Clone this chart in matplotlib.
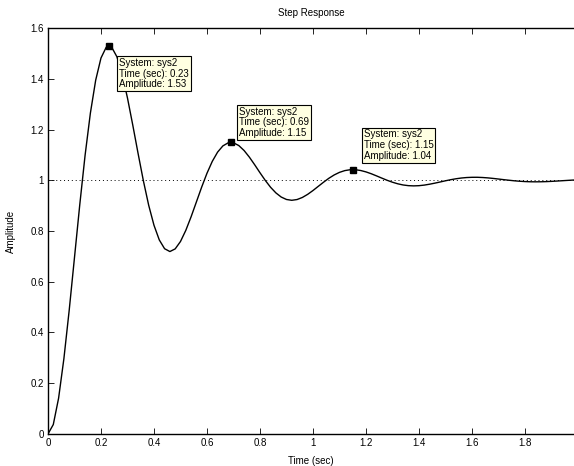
import matplotlib
matplotlib.use('Agg')
import matplotlib.pyplot as plt

plt.rcParams['font.family'] = ['Liberation Sans', 'DejaVu Sans']

# step response of sys2, every 0.02 s
t = [round(0.02 * i, 2) for i in range(101)]
amp = [0.0000, 0.0372, 0.1409, 0.2966, 0.4872, 0.6955, 0.9043, 1.0983, 1.2647, 1.3944,
       1.4818, 1.5248, 1.5250, 1.4867, 1.4170, 1.3240, 1.2171, 1.1055, 0.9978, 0.9015,
       0.8226, 0.7648, 0.7302, 0.7190, 0.7295, 0.7586, 0.8023, 0.8559, 0.9144, 0.9731,
       1.0276, 1.0744, 1.1108, 1.1354, 1.1475, 1.1475, 1.1368, 1.1172, 1.0910, 1.0610,
       1.0296, 0.9994, 0.9723, 0.9502, 0.9339, 0.9242, 0.9210, 0.9240, 0.9322, 0.9445,
       0.9595, 0.9760, 0.9924, 1.0078, 1.0209, 1.0311, 1.0380, 1.0414, 1.0415, 1.0384,
       1.0329, 1.0256, 1.0171, 1.0083, 0.9998, 0.9922, 0.9860, 0.9814, 0.9787, 0.9778,
       0.9786, 0.9809, 0.9844, 0.9886, 0.9932, 0.9979, 1.0022, 1.0059, 1.0088, 1.0107,
       1.0116, 1.0117, 1.0108, 1.0093, 1.0072, 1.0048, 1.0023, 1.0000, 0.9978, 0.9961,
       0.9948, 0.9940, 0.9938, 0.9940, 0.9946, 0.9956, 0.9968, 0.9981, 0.9994, 1.0006,
       1.0017]

# data tips
tip_t = [0.23, 0.69, 1.15]
tip_a = [1.53, 1.15, 1.04]
tip_off = [(10, -12), (8, 4), (11, 9)]
tip_va = ['top', 'bottom', 'bottom']

final_value = 1.0

fig = plt.figure(figsize=(5.74, 4.66), dpi=100)
ax = fig.add_axes([0.0836, 0.0687, 0.9164, 0.8712])

ax.plot(t, amp, color='black', lw=1.0)
ax.axhline(final_value, color='black', lw=0.7, ls=(0, (1, 3)))

for tt, aa, off, va in zip(tip_t, tip_a, tip_off, tip_va):
    ax.plot([tt], [aa], 's', color='black', ms=4.5)
    ax.annotate('System: sys2\nTime (sec): %.2f\nAmplitude: %.2f' % (tt, aa),
                xy=(tt, aa), xytext=off, textcoords='offset pixels',
                ha='left', va=va, fontsize=7, linespacing=1.1,
                bbox=dict(boxstyle='square,pad=0.2', fc='#ffffe1', ec='black', lw=0.8))

ax.set_xlim(0, 1.985)
ax.set_ylim(0, 1.6)
ax.set_xticks([0, 0.2, 0.4, 0.6, 0.8, 1, 1.2, 1.4, 1.6, 1.8])
ax.set_xticklabels(['0', '0.2', '0.4', '0.6', '0.8', '1', '1.2', '1.4', '1.6', '1.8'])
ax.set_yticks([0, 0.2, 0.4, 0.6, 0.8, 1, 1.2, 1.4, 1.6])
ax.set_yticklabels(['0', '0.2', '0.4', '0.6', '0.8', '1', '1.2', '1.4', '1.6'])
ax.tick_params(direction='in', length=4, width=0.6, labelsize=7, top=True, right=False, pad=3)
ax.spines['right'].set_visible(False)
for s in ax.spines.values():
    s.set_linewidth(1.0)

ax.set_title('Step Response', fontsize=7, pad=9)
ax.set_xlabel('Time (sec)', fontsize=7, labelpad=6)
ax.set_ylabel('Amplitude', fontsize=7, labelpad=10)

fig.savefig('out.png', dpi=100)
